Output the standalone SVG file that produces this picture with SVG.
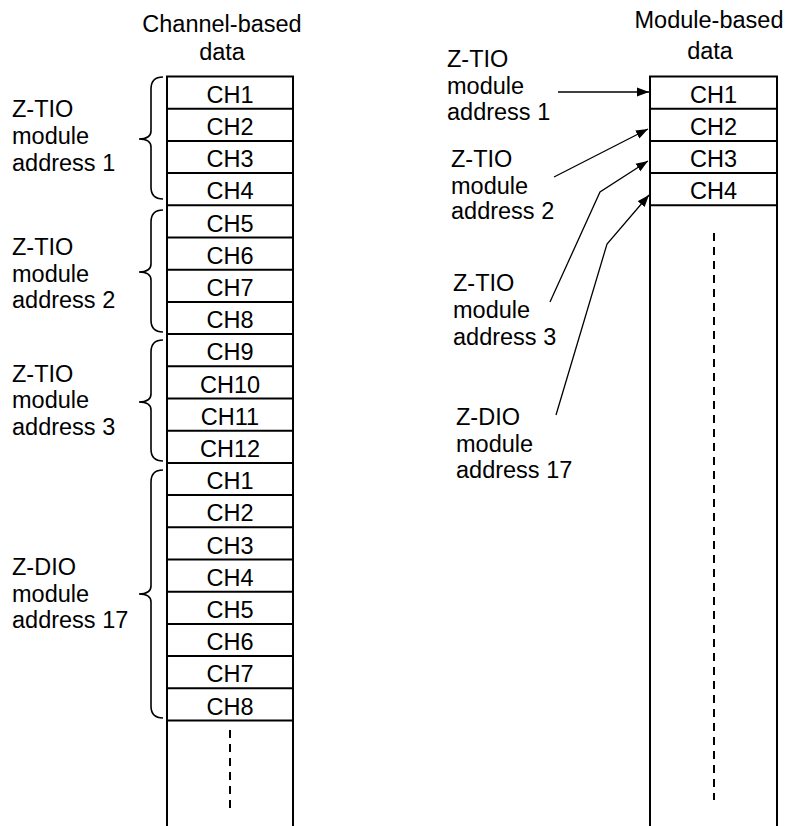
<svg xmlns="http://www.w3.org/2000/svg" width="787" height="826" viewBox="0 0 787 826">
<style>
text{font-family:"Liberation Sans",Arial,sans-serif;font-size:23.5px;fill:#000}
.c{text-anchor:middle}
.col{fill:#fff;stroke:#000;stroke-width:2}
.row{stroke:#000;stroke-width:2}
.br{fill:none;stroke:#000;stroke-width:1.6}
.dash{stroke:#000;stroke-width:2;stroke-dasharray:8 6}
.ar{fill:none;stroke:#000;stroke-width:1.3}
</style>
<defs>
<marker id="ah" markerUnits="userSpaceOnUse" markerWidth="13" markerHeight="10" refX="12" refY="5" orient="auto">
<path d="M0,0.5 L12,5 L0,9.5 Z" fill="#000"/>
</marker>
</defs>
<rect width="787" height="826" fill="#fff"/>

<g id="channel-title">
<text class="c" x="222" y="32">Channel-based</text>
<text class="c" x="222" y="60">data</text>
</g>
<g id="module-title">
<text class="c" x="709" y="28">Module-based</text>
<text class="c" x="710" y="59">data</text>
</g>

<g id="channel-table">
<path class="col" d="M167,830 V76.5 H293 V830"/>
<g class="row">
<line x1="167" x2="293" y1="108.7" y2="108.7"/>
<line x1="167" x2="293" y1="140.9" y2="140.9"/>
<line x1="167" x2="293" y1="173.1" y2="173.1"/>
<line x1="167" x2="293" y1="205.3" y2="205.3"/>
<line x1="167" x2="293" y1="237.5" y2="237.5"/>
<line x1="167" x2="293" y1="269.7" y2="269.7"/>
<line x1="167" x2="293" y1="301.9" y2="301.9"/>
<line x1="167" x2="293" y1="334.1" y2="334.1"/>
<line x1="167" x2="293" y1="366.3" y2="366.3"/>
<line x1="167" x2="293" y1="398.5" y2="398.5"/>
<line x1="167" x2="293" y1="430.7" y2="430.7"/>
<line x1="167" x2="293" y1="462.9" y2="462.9"/>
<line x1="167" x2="293" y1="495.1" y2="495.1"/>
<line x1="167" x2="293" y1="527.3" y2="527.3"/>
<line x1="167" x2="293" y1="559.5" y2="559.5"/>
<line x1="167" x2="293" y1="591.7" y2="591.7"/>
<line x1="167" x2="293" y1="623.9" y2="623.9"/>
<line x1="167" x2="293" y1="656.1" y2="656.1"/>
<line x1="167" x2="293" y1="688.3" y2="688.3"/>
<line x1="167" x2="293" y1="720.5" y2="720.5"/>
</g>
<text class="c" x="230" y="103">CH1</text>
<text class="c" x="230" y="135">CH2</text>
<text class="c" x="230" y="167">CH3</text>
<text class="c" x="230" y="199">CH4</text>
<text class="c" x="230" y="232">CH5</text>
<text class="c" x="230" y="264">CH6</text>
<text class="c" x="230" y="296">CH7</text>
<text class="c" x="230" y="328">CH8</text>
<text class="c" x="230" y="360">CH9</text>
<text class="c" x="230" y="393">CH10</text>
<text class="c" x="230" y="425">CH11</text>
<text class="c" x="230" y="457">CH12</text>
<text class="c" x="230" y="489">CH1</text>
<text class="c" x="230" y="521">CH2</text>
<text class="c" x="230" y="554">CH3</text>
<text class="c" x="230" y="586">CH4</text>
<text class="c" x="230" y="618">CH5</text>
<text class="c" x="230" y="650">CH6</text>
<text class="c" x="230" y="682">CH7</text>
<text class="c" x="230" y="715">CH8</text>
<line class="dash" x1="230" y1="730" x2="230" y2="808"/>
</g>

<g id="module-table">
<path class="col" d="M650,830 V76.5 H777 V830"/>
<g class="row">
<line x1="650" x2="777" y1="108.7" y2="108.7"/>
<line x1="650" x2="777" y1="140.9" y2="140.9"/>
<line x1="650" x2="777" y1="173.1" y2="173.1"/>
<line x1="650" x2="777" y1="205.3" y2="205.3"/>
</g>
<text class="c" x="713.5" y="103">CH1</text>
<text class="c" x="713.5" y="135">CH2</text>
<text class="c" x="713.5" y="167">CH3</text>
<text class="c" x="713.5" y="199">CH4</text>
<line class="dash" x1="714" y1="233" x2="714" y2="800"/>
</g>

<g id="left-label-1">
<path class="br" d="M163,77 Q151,77 151,89 V131 Q151,139 139,139 Q151,139 151,147 V187 Q151,199 163,199"/>
<text x="12" y="117">Z-TIO</text>
<text x="12" y="144">module</text>
<text x="12" y="171">address 1</text>
</g>
<g id="left-label-2">
<path class="br" d="M163,210 Q151,210 151,222 V264 Q151,272 139,272 Q151,272 151,280 V320 Q151,332 163,332"/>
<text x="12" y="255">Z-TIO</text>
<text x="12" y="282">module</text>
<text x="12" y="308">address 2</text>
</g>
<g id="left-label-3">
<path class="br" d="M163,340 Q151,340 151,352 V394 Q151,402 139,402 Q151,402 151,410 V449 Q151,461 163,461"/>
<text x="12" y="382">Z-TIO</text>
<text x="12" y="408">module</text>
<text x="12" y="435">address 3</text>
</g>
<g id="left-label-4">
<path class="br" d="M163,470 Q151,470 151,482 V586 Q151,594 139,594 Q151,594 151,602 V706 Q151,718 163,718"/>
<text x="12" y="575">Z-DIO</text>
<text x="12" y="602">module</text>
<text x="12" y="628">address 17</text>
</g>

<g id="right-label-1">
<text x="447" y="67">Z-TIO</text>
<text x="447" y="93.5">module</text>
<text x="447" y="120">address 1</text>
</g>
<g id="right-label-2">
<text x="451" y="167">Z-TIO</text>
<text x="451" y="193.5">module</text>
<text x="451" y="219">address 2</text>
</g>
<g id="right-label-3">
<text x="453" y="291">Z-TIO</text>
<text x="453" y="318">module</text>
<text x="453" y="344.5">address 3</text>
</g>
<g id="right-label-4">
<text x="456" y="425">Z-DIO</text>
<text x="456" y="452">module</text>
<text x="456" y="478">address 17</text>
</g>

<g id="connectors">
<line class="ar" x1="558" y1="92" x2="649" y2="92" marker-end="url(#ah)"/>
<line class="ar" x1="554" y1="177" x2="648" y2="129" marker-end="url(#ah)"/>
<polyline class="ar" points="550,302 600,192 648,161" marker-end="url(#ah)"/>
<polyline class="ar" points="556,415 607,244 649,195" marker-end="url(#ah)"/>
</g>
</svg>
